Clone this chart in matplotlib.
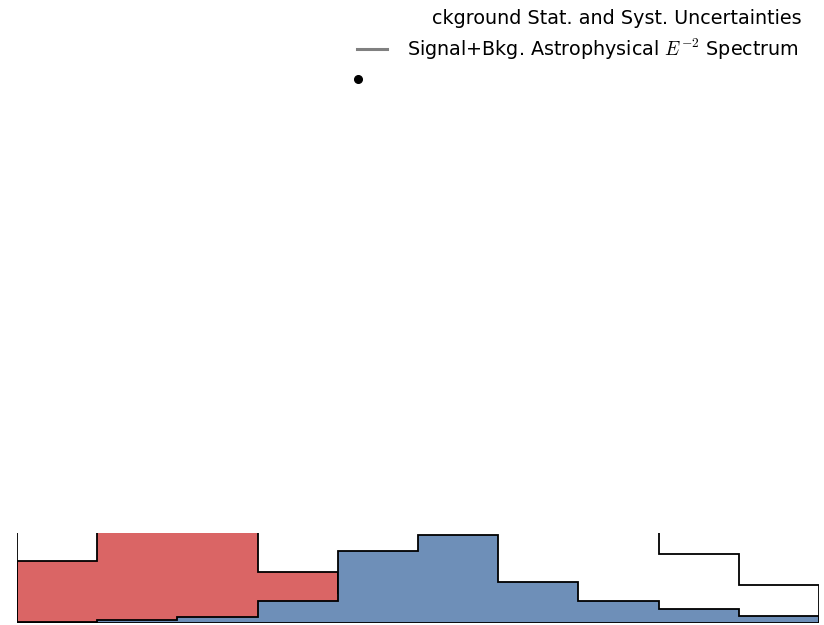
import matplotlib
matplotlib.use("Agg")
import matplotlib.pyplot as plt
import numpy as np
from matplotlib.lines import Line2D

plt.rcParams["mathtext.fontset"] = "cm"

# ---- data (bin index 0..9) ----
bin_edges = np.arange(11)
background = [62.3, 150, 140, 51, 30, 15, 8, 4, 2, 1]           # red filled
signal = [1.0, 3.3, 6.0, 22.0, 72.0, 88.3, 41.6, 22.6, 14.0, 7.0]  # blue filled
total_outline = [200, 300, 280, 200, 220, 240, 180, 120, 69.0, 38.3]  # black step
legend_labels = ["ckground Stat. and Syst. Uncertainties",
                 "Signal+Bkg. Astrophysical $E^{-2}$ Spectrum",
                 ""]

RED = "#da6565"
BLUE = "#6e8fb8"

W, H = 824, 625
fig = plt.figure(figsize=(W / 100, H / 100), dpi=100)
ax = fig.add_axes([17 / W, 1.7 / H, (819 - 17) / W, (623.3 - 533) / H])

centers = bin_edges[:-1] + 0.5
ax.hist(centers, bins=bin_edges, weights=background, histtype="stepfilled",
        facecolor=RED, edgecolor="black", linewidth=1.3)
ax.hist(centers, bins=bin_edges, weights=signal, histtype="stepfilled",
        facecolor=BLUE, edgecolor="black", linewidth=1.3)
ax.hist(centers, bins=bin_edges, weights=total_outline, histtype="step",
        color="black", linewidth=1.3)

ax.set_xlim(0, 10)
ax.set_ylim(0, 90.3)
for s in ax.spines.values():
    s.set_visible(False)
ax.set_xticks([])
ax.set_yticks([])

# ---- legend (partially visible) ----
fs = 13.8
fig.text(432 / W, 1 - 18 / H, legend_labels[0], fontsize=fs, ha="left", va="center")
fig.text(407 / W, 1 - 49 / H, legend_labels[1], fontsize=fs, ha="left", va="center")
fig.add_artist(Line2D([357 / W, 387 / W], [1 - 49 / H, 1 - 49 / H], color="grey",
                      linewidth=2.2, transform=fig.transFigure))
fig.add_artist(Line2D([358 / W], [1 - 79 / H], marker="o", color="black",
                      markersize=5.5, linestyle="none", transform=fig.transFigure))

fig.savefig("out.png", dpi=100)
